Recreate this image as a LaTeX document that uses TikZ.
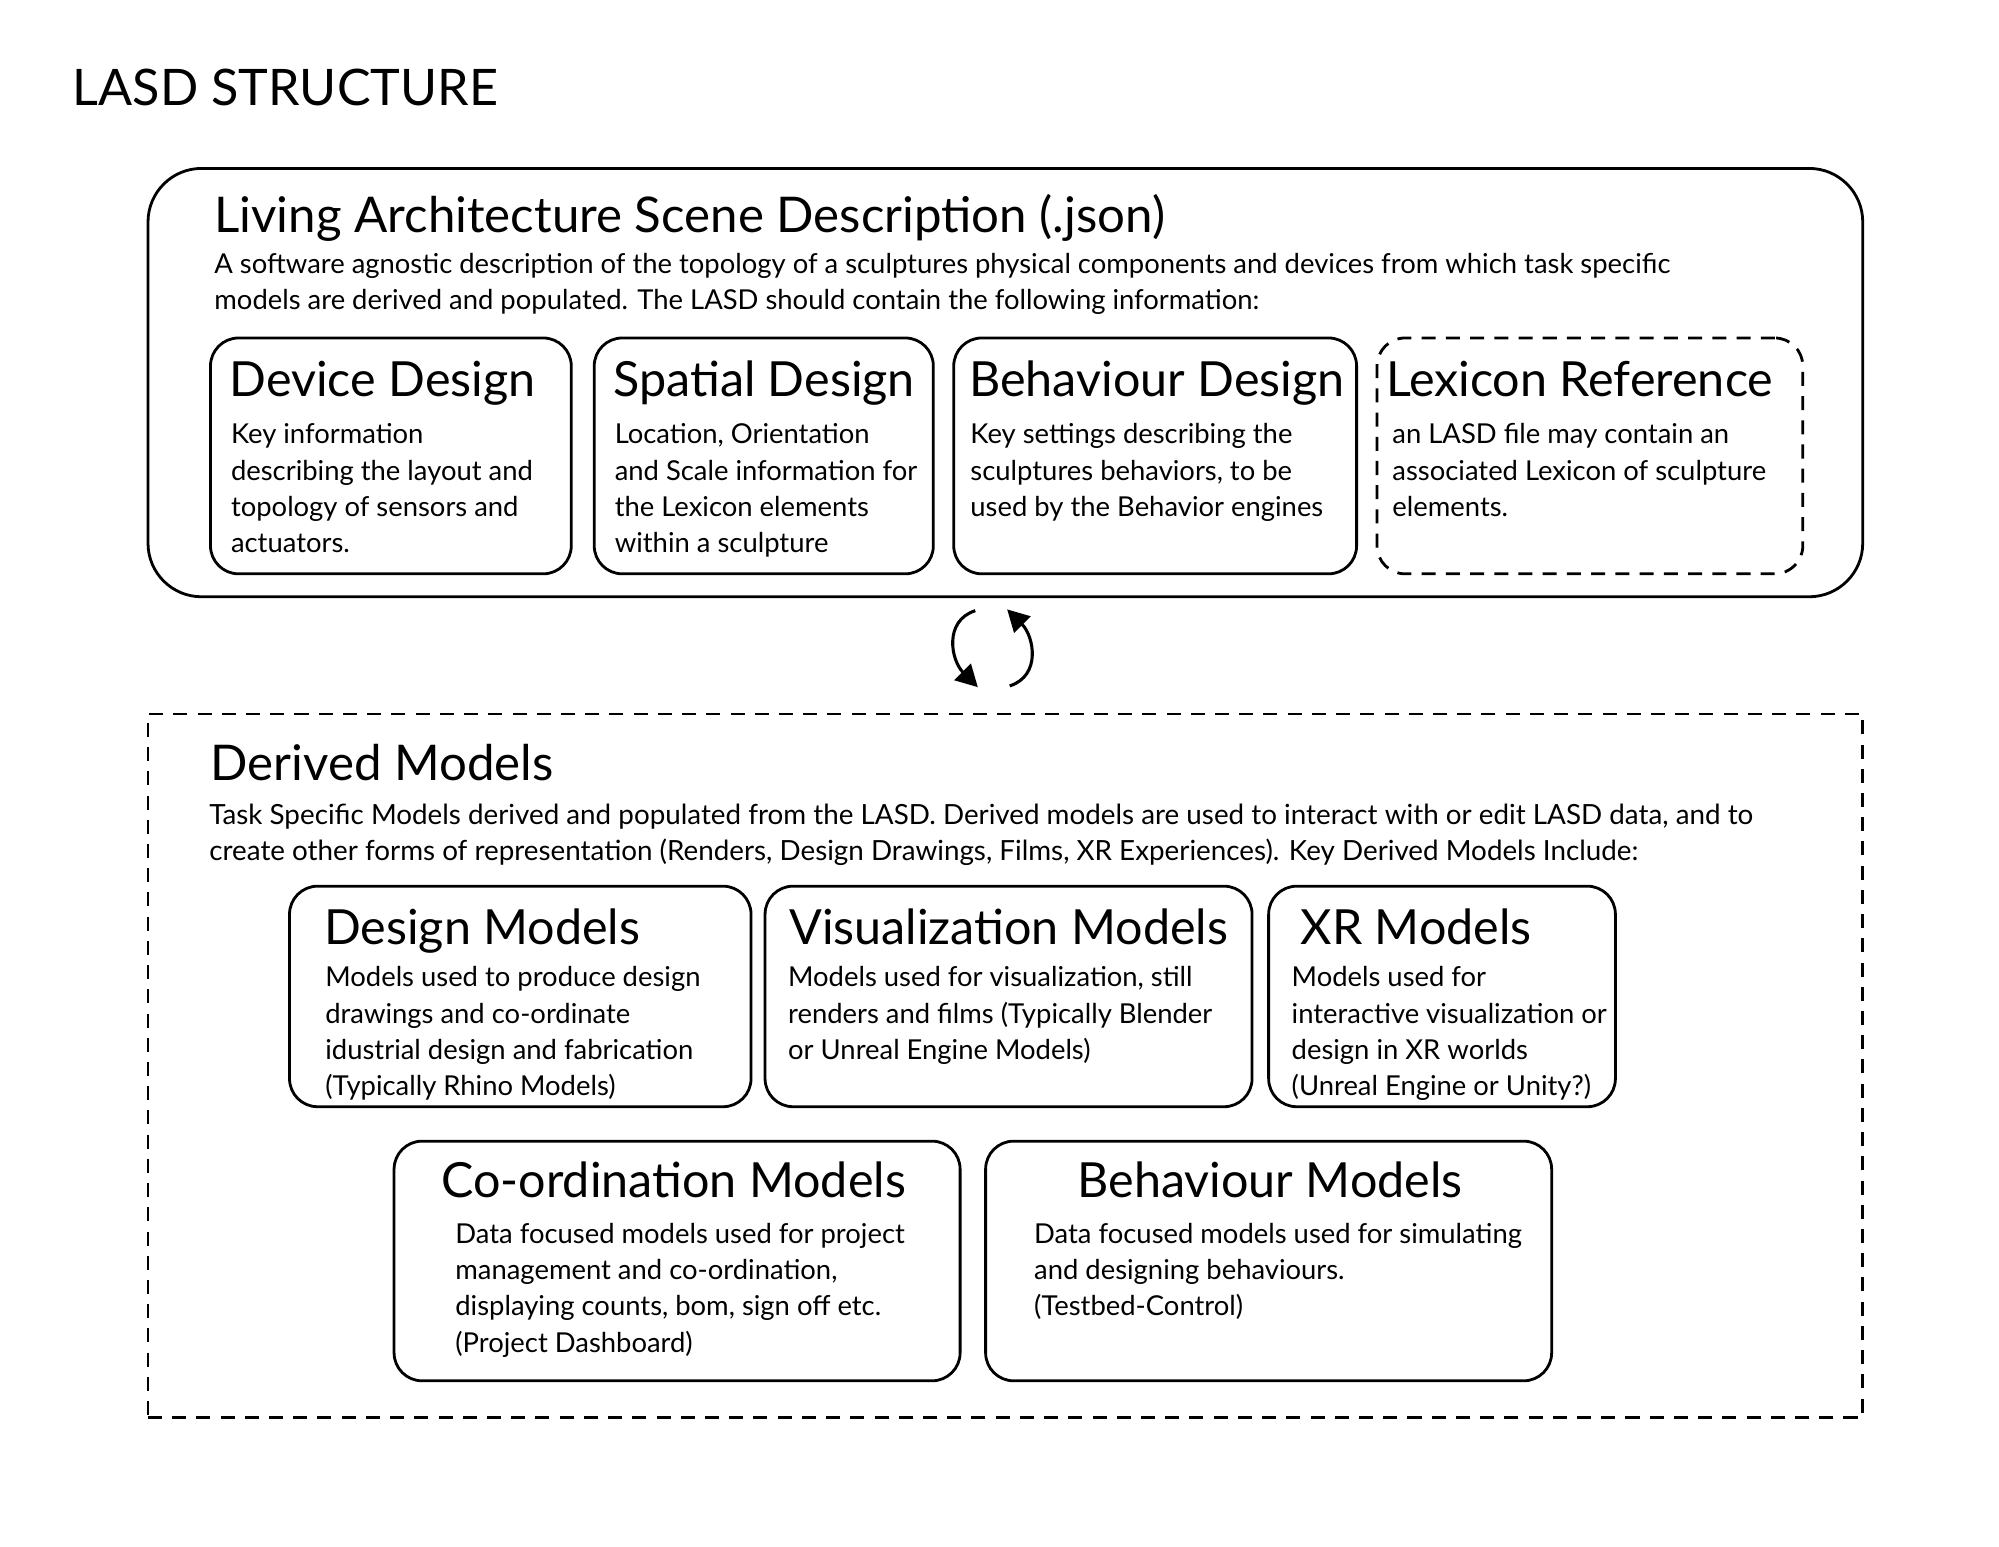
\documentclass[tikz,border=0pt]{standalone}
\usepackage{fontspec}
\setmainfont{Lato}
\usetikzlibrary{arrows.meta}
\newcommand{\bigtitle}{\fontsize{39.5}{48}\selectfont}
\newcommand{\headfont}{\fontsize{38.6}{44}\selectfont}
\newcommand{\boxhead}{\fontsize{38}{44}\selectfont}
\newcommand{\bodyfont}{\fontsize{21.5}{28.5}\selectfont}
\newcommand{\descfont}{\fontsize{21.5}{28.2}\selectfont}
\newcommand{\derdescfont}{\fontsize{21.8}{28.6}\selectfont}
\begin{document}
\begin{tikzpicture}[x=1pt,y=-1pt,
  frame/.style={draw, line width=2.2pt, rounded corners=22pt, inner sep=0pt, anchor=north west},
  dashframe/.style={draw, line width=2pt, dash pattern=on 11pt off 8pt, inner sep=0pt, anchor=north west},
  head/.style={anchor=base west, inner sep=0pt, font=\boxhead},
  body/.style={anchor=north west, inner sep=0pt, align=left, font=\bodyfont},
  cyc/.style={line width=2.4pt, -{Triangle[length=17pt,width=18pt]}}
]
\useasboundingbox (0,0) rectangle (1568,1212.7);

% title
\node[anchor=base west, inner sep=0pt, font=\bigtitle] (title) at (57,83) {LASD STRUCTURE};

% LASD outer box
\node[frame, rounded corners=42pt, minimum width=1345pt, minimum height=336pt] (lasd) at (115,131) {};
\node[anchor=base west, inner sep=0pt, font=\headfont] (lasdT) at (168,182) {Living Architecture Scene Description (.json)};
\node[body, font=\descfont] (lasdD) at (168,194.4) {\strut A software agnostic description of the topology of a sculptures physical components and devices from which task specific\\ models are derived and populated. The LASD should contain the following information:};

% four inner boxes
\node[frame, minimum width=283pt, minimum height=185pt] (dev) at (164,264) {};
\node[frame, minimum width=266pt, minimum height=185pt] (spa) at (465,264) {};
\node[frame, minimum width=316pt, minimum height=185pt] (beh) at (747,264) {};
\node[frame, dash pattern=on 11pt off 8pt, minimum width=334pt, minimum height=185pt] (lex) at (1079,264) {};

\node[head] (devT) at (180,311) {Device Design};
\node[head] (spaT) at (481,311) {Spatial Design};
\node[head] (behT) at (760,311) {Behaviour Design};
\node[head] (lexT) at (1087,311) {Lexicon Reference};

\node[body] (devD) at (181,328) {\strut Key information\\ describing the layout and\\ topology of sensors and\\ actuators.};
\node[body] (spaD) at (482,328) {\strut Location, Orientation\\ and Scale information for\\ the Lexicon elements\\ within a sculpture};
\node[body] (behD) at (761,328) {\strut Key settings describing the\\ sculptures behaviors, to be\\ used by the Behavior engines};
\node[body] (lexD) at (1092,328) {\strut an LASD file may contain an\\ associated Lexicon of sculpture\\ elements.};

% cycle arrows
\coordinate (cL1) at (765,479);
\coordinate (cL2) at (767,539);
\coordinate (cR1) at (792,538);
\coordinate (cR2) at (790,478);
\draw[cyc] (cL1) .. controls (740,487) and (746,518) .. (cL2);
\draw[cyc] (cR1) .. controls (817,530) and (811,499) .. (cR2);

% Derived models dashed box
\node[dashframe, minimum width=1345pt, minimum height=552pt] (der) at (115,559) {};
\node[anchor=base west, inner sep=0pt, font=\headfont] (derT) at (165,612) {Derived Models};
\node[body, font=\derdescfont] (derD) at (164,626.5) {\strut Task Specific Models derived and populated from the LASD. Derived models are used to interact with or edit LASD data, and to\\ create other forms of representation (Renders, Design Drawings, Films, XR Experiences). Key Derived Models Include:};

% row 1
\node[frame, minimum width=362pt, minimum height=173pt] (des) at (226,694) {};
\node[frame, minimum width=382pt, minimum height=173pt] (vis) at (599,694) {};
\node[frame, minimum width=272pt, minimum height=173pt] (xr) at (994,694) {};
\node[head] (desT) at (254,741) {Design Models};
\node[head] (visT) at (619,741) {Visualization Models};
\node[head] (xrT) at (1020,741) {XR Models};
\node[body] (desD) at (255,754) {\strut Models used to produce design\\ drawings and co-ordinate\\ idustrial design and fabrication\\ (Typically Rhino Models)};
\node[body] (visD) at (618,754) {\strut Models used for visualization, still\\ renders and films (Typically Blender\\ or Unreal Engine Models)};
\node[body] (xrD) at (1013,754) {\strut Models used for\\ interactive visualization or\\ design in XR worlds\\ (Unreal Engine or Unity?)};

% row 2
\node[frame, minimum width=444pt, minimum height=188pt] (coo) at (308,894) {};
\node[frame, minimum width=444pt, minimum height=188pt] (bem) at (772,894) {};
\node[head] (cooT) at (346,939) {Co-ordination Models};
\node[head] (bemT) at (845,939) {Behaviour Models};
\node[body] (cooD) at (357,955) {\strut Data focused models used for project\\ management and co-ordination,\\ displaying counts, bom, sign off etc.\\ (Project Dashboard)};
\node[body] (bemD) at (811,955) {\strut Data focused models used for simulating\\ and designing behaviours.\\ (Testbed-Control)};
\end{tikzpicture}
\end{document}
